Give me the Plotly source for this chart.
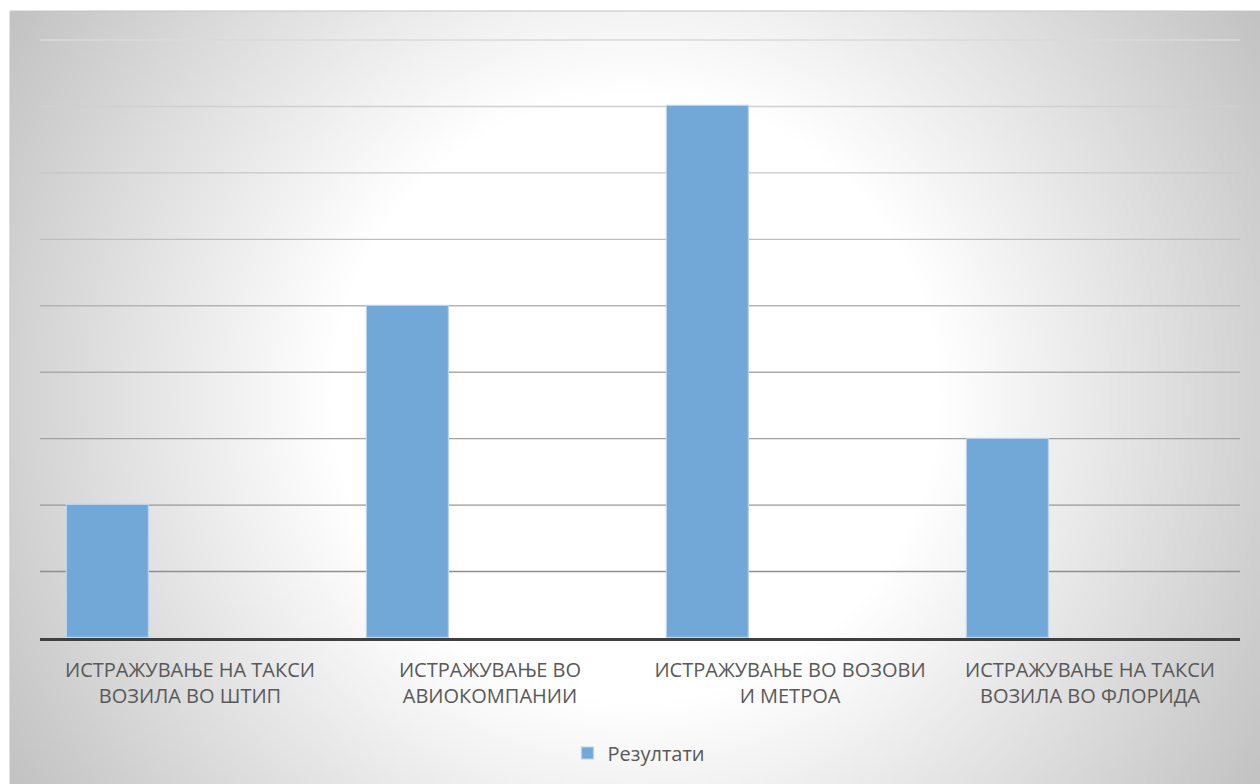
import base64
import struct
import zlib

import numpy as np
import plotly.graph_objects as go

# ---- data ----
categories = [
    "ИСТРАЖУВАЊЕ НА ТАКСИ<br>ВОЗИЛА ВО ШТИП",
    "ИСТРАЖУВАЊЕ ВО<br>АВИОКОМПАНИИ",
    "ИСТРАЖУВАЊЕ ВО ВОЗОВИ<br>И МЕТРОА",
    "ИСТРАЖУВАЊЕ НА ТАКСИ<br>ВОЗИЛА ВО ФЛОРИДА",
]
series_name = "Резултати"
values = [2, 5, 8, 3]
grid_levels = [1, 2, 3, 4, 5, 6, 7, 8, 9]

W, H = 1260, 784
Y_MAX = 9.03
PL, PR, PT, PB = 40, 1240, 38, 638  # plot area in pixels


# ---- radial gradient background (style only) ----
def make_png(arr):
    h, w = arr.shape
    raw = b"".join(b"\x00" + arr[r].astype(np.uint8).tobytes() for r in range(h))

    def chunk(tag, data):
        c = struct.pack(">I", len(data)) + tag + data
        return c + struct.pack(">I", zlib.crc32(tag + data) & 0xFFFFFFFF)

    png = b"\x89PNG\r\n\x1a\n"
    png += chunk(b"IHDR", struct.pack(">IIBBBBB", w, h, 8, 0, 0, 0, 0))
    png += chunk(b"IDAT", zlib.compress(raw, 9))
    png += chunk(b"IEND", b"")
    return "data:image/png;base64," + base64.b64encode(png).decode()


bx0, by0, bx1, by1 = 10, 11, 1260, 784
gw, gh = 313, 194
xs = np.linspace(bx0, bx1, gw)
ys = np.linspace(by0, by1, gh)
X, Y = np.meshgrid(xs, ys)
cx, cy = (bx0 + bx1) / 2, (by0 + by1) / 2
dist = np.sqrt((X - cx) ** 2 + (Y - cy) ** 2) / np.sqrt((bx1 - cx) ** 2 + (by1 - cy) ** 2)
t = np.clip((dist - 0.42) / 0.58, 0, 1)
img = 255 - 60 * t
bg_src = make_png(img)

pw, ph = PR - PL, PB - PT

fig = go.Figure()
fig.add_trace(
    go.Bar(
        x=list(range(len(categories))),
        y=values,
        name=series_name,
        width=0.273,
        offset=-0.41,
        marker=dict(color="#72a8d8", line=dict(color="#b9d3ec", width=1.2)),
        showlegend=True,
    )
)

fig.add_layout_image(
    dict(
        source=bg_src,
        xref="paper",
        yref="paper",
        x=(bx0 - PL) / pw,
        y=(PB - by0) / ph,
        sizex=(bx1 - bx0) / pw,
        sizey=(by1 - by0) / ph,
        sizing="stretch",
        xanchor="left",
        yanchor="top",
        layer="below",
    )
)

# thin border along the top/left of chart area
fig.add_shape(
    type="rect",
    xref="paper",
    yref="paper",
    x0=(bx0 - PL) / pw,
    x1=(bx1 + 5 - PL) / pw,
    y0=(PB - by1 - 5) / ph,
    y1=(PB - by0) / ph,
    line=dict(color="#c4c4c4", width=1),
    layer="below",
)

# gridlines that darken towards the bottom
top_c, bot_c = 0xDA, 0x8E
for lv in grid_levels:
    f = (lv - grid_levels[0]) / (grid_levels[-1] - grid_levels[0])
    c = int(round(bot_c + (top_c - bot_c) * f))
    fig.add_shape(
        type="line",
        xref="paper",
        yref="y",
        x0=0,
        x1=1,
        y0=lv,
        y1=lv,
        line=dict(color=f"rgb({c},{c},{c})", width=1.4),
        layer="below",
    )

fig.update_layout(
    width=W,
    height=H,
    margin=dict(l=PL, r=W - PR, t=PT, b=H - PB),
    paper_bgcolor="white",
    plot_bgcolor="rgba(0,0,0,0)",
    font=dict(family="Open Sans, Noto Sans, sans-serif", color="#595959", size=20),
    bargap=0,
    legend=dict(
        orientation="h",
        x=(639 - PL) / pw,
        xanchor="center",
        y=(PB - 753) / ph,
        yanchor="middle",
        font=dict(size=20, color="#595959"),
        bgcolor="rgba(0,0,0,0)",
        itemwidth=30,
    ),
    xaxis=dict(
        tickmode="array",
        tickvals=list(range(len(categories))),
        ticktext=categories,
        range=[-0.5, len(categories) - 0.5],
        showgrid=False,
        zeroline=False,
        showline=True,
        linecolor="#404040",
        linewidth=3,
        ticks="outside",
        ticklen=12,
        tickcolor="rgba(0,0,0,0)",
        tickfont=dict(size=20, color="#595959"),
    ),
    yaxis=dict(
        range=[0, Y_MAX],
        dtick=1,
        showgrid=False,
        zeroline=False,
        showticklabels=False,
        showline=False,
        fixedrange=True,
    ),
)

fig.write_html("out.html")
